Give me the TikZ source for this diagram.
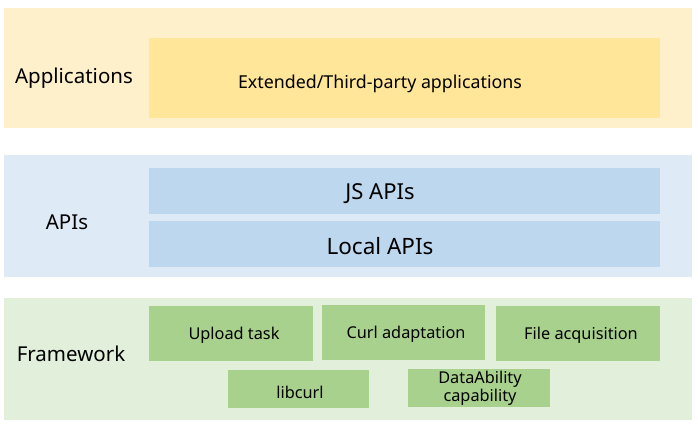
\documentclass[tikz,border=0pt]{standalone}
\usepackage{fontspec}
\setmainfont{Noto Sans}
\definecolor{appbg}{HTML}{FFF0CC}
\definecolor{appbox}{HTML}{FFE699}
\definecolor{apibg}{HTML}{DEEAF6}
\definecolor{apibox}{HTML}{BDD7EE}
\definecolor{fwbg}{HTML}{E2EFDA}
\definecolor{fwbox}{HTML}{A9D18E}
\begin{document}
\begin{tikzpicture}[x=1pt,y=-1pt,
  lbl/.style={font=\fontsize{20.5}{24}\selectfont,text=black},
  boxtxt/.style={font=\fontsize{16.3}{18}\selectfont,text=black,align=center},
  apitxt/.style={font=\fontsize{22}{26}\selectfont,text=black}]
\useasboundingbox (0,0) rectangle (698,426);
% layers
\fill[appbg] (4,8) rectangle (692,128);
\fill[apibg] (4,155) rectangle (692,277);
\fill[fwbg] (4,298) rectangle (692,420);
% applications
\fill[appbox] (149,38) rectangle (660,118);
\node[lbl] (applbl) at (74,78) {Applications};
\node[boxtxt,font=\fontsize{17.8}{20}\selectfont] (ext) at (380,84) {Extended/Third-party applications};
% APIs
\fill[apibox] (149,168) rectangle (660,214);
\fill[apibox] (149,221) rectangle (660,267);
\node[lbl] (apilbl) at (67,222) {APIs};
\node[apitxt] (js) at (380,194) {JS APIs};
\node[apitxt,font=\fontsize{22.5}{26}\selectfont] (local) at (380,246) {Local APIs};
% Framework
\fill[fwbox] (149,306) rectangle (313,361);
\fill[fwbox] (322,305) rectangle (485,360);
\fill[fwbox] (496,306) rectangle (660,361);
\fill[fwbox] (228,370) rectangle (369,408);
\fill[fwbox] (408,369) rectangle (550,407);
\node[lbl] (fwlbl) at (71,354) {Framework};
\node[boxtxt] (upload) at (234,335) {Upload task};
\node[boxtxt] (curl) at (406,334) {Curl adaptation};
\node[boxtxt] (file) at (581,335) {File acquisition};
\node[boxtxt] (libcurl) at (300,392) {libcurl};
\node[boxtxt,font=\fontsize{16.3}{18}\selectfont] (data) at (480,388) {DataAbility\\capability};
\end{tikzpicture}
\end{document}
